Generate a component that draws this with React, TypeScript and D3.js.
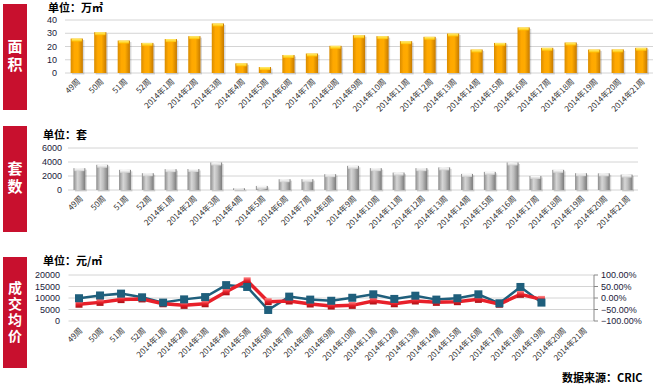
import React from "react";
import * as d3 from "d3";

// categories (weeks)
const weeks = [
  "49周", "50周", "51周", "52周",
  "2014年1周", "2014年2周", "2014年3周", "2014年4周", "2014年5周", "2014年6周",
  "2014年7周", "2014年8周", "2014年9周", "2014年10周", "2014年11周", "2014年12周",
  "2014年13周", "2014年14周", "2014年15周", "2014年16周", "2014年17周", "2014年18周",
  "2014年19周", "2014年20周", "2014年21周",
];

// 面积 (万㎡)
const areaValues = [26, 30.8, 24.5, 22.7, 25.6, 27.8, 37.4, 7.3, 4.5, 13.6, 14.7, 20.5, 28.5, 27.8, 24, 27.3, 29.8, 17.7, 22.7, 34.4, 19, 23, 17.7, 17.8, 19];
const areaTicks = [0, 10, 20, 30, 40];

// 套数 (套)
const unitValues = [3120, 3600, 2880, 2400, 2980, 3000, 3930, 250, 580, 1540, 1550, 2260, 3450, 3120, 2490, 3120, 3230, 2300, 2590, 3930, 2010, 2880, 2400, 2380, 2200];
const unitTicks = [0, 2000, 4000, 6000];

// 成交均价 (元/㎡) two series, data up to 2014年19周
const priceRed = [7300, 8100, 9300, 9600, 7500, 6800, 7500, 12700, 17500, 8400, 8700, 7400, 6500, 6800, 8700, 7500, 8700, 8100, 8400, 9400, 7300, 11600, 9400];
const priceBlue = [9900, 11100, 11900, 10300, 8000, 9400, 10400, 15600, 14800, 4800, 10600, 9300, 8800, 10100, 11600, 9600, 11000, 9300, 9900, 11600, 7700, 14800, 8000];
const priceTicks = [0, 5000, 10000, 15000, 20000];
const pctTicks = [-1, -0.5, 0, 0.5, 1];

const CJK = "'Microsoft YaHei','Noto Sans CJK SC',sans-serif";
const NUM = "'Liberation Sans',Arial,sans-serif";
const RED = "#c8102e";

type SideProps = { y: number; h: number; label: string; gap: number; size: number };

// red box with a vertically written title
const SideLabel = ({ y, h, label, gap, size }: SideProps) => (
  <g>
    <rect x={3} y={y} width={24} height={h} fill={RED} />
    <text
      x={15}
      y={y + h / 2}
      textAnchor="middle"
      fill="#fff"
      fontSize={size}
      fontWeight="bold"
      fontFamily={CJK}
      style={{ writingMode: "vertical-rl", letterSpacing: gap }}
    >
      {label}
    </text>
  </g>
);

type BarProps = {
  values: number[];
  ticks: number[];
  x0: number;
  x1: number;
  yTop: number;
  yBottom: number;
  tickRight: number;
  unit: string;
  unitX: number;
  unitY: number;
  grad: string;
  cap: string;
};

const BarPanel = (p: BarProps) => {
  const x = d3.scaleBand<string>().domain(weeks).range([p.x0, p.x1]).paddingInner(0.48).paddingOuter(0.24);
  const y = d3
    .scaleLinear()
    .domain([0, p.ticks[p.ticks.length - 1]])
    .range([p.yBottom, p.yTop]);
  const bw = x.bandwidth();
  return (
    <g>
      <text x={p.unitX} y={p.unitY} fontSize={11} fontWeight="bold" fontFamily={CJK} fill="#000">
        {p.unit}
      </text>
      {p.ticks.map((t) => (
        <g key={t}>
          <line x1={p.x0} x2={p.x1} y1={y(t)} y2={y(t)} stroke="#d4d4d4" strokeWidth={1} />
          <text x={p.tickRight} y={y(t)} dy="0.35em" textAnchor="end" fontSize={9} fontFamily={NUM} fill="#1a1a3a">
            {t}
          </text>
        </g>
      ))}
      {weeks.map((w, i) => {
        const bx = x(w) as number;
        const by = y(p.values[i]);
        const bh = p.yBottom - by;
        return (
          <g key={w}>
            <rect x={bx + 1.5} y={by + 1.5} width={bw} height={bh} fill="#000" opacity={0.15} />
            <rect x={bx} y={by} width={bw} height={bh} fill={`url(#${p.grad})`} />
            <rect x={bx + 1} y={by} width={bw - 2} height={Math.min(3, bh)} fill={`url(#${p.cap})`} />
          </g>
        );
      })}
      {weeks.map((w) => {
        const cx = (x(w) as number) + bw / 2;
        return (
          <text
            key={w}
            transform={`translate(${cx + 4},${p.yBottom + 9}) rotate(-45)`}
            textAnchor="end"
            fontSize={8}
            fontFamily={CJK}
            fill="#333"
          >
            {w}
          </text>
        );
      })}
    </g>
  );
};

const LinePanel = () => {
  const x0 = 68.5;
  const x1 = 594;
  const yTop = 275;
  const yBottom = 321;
  const x = d3.scalePoint<string>().domain(weeks).range([x0, x1]).padding(0.5);
  const y = d3.scaleLinear().domain([0, 20000]).range([yBottom, yTop]);
  const yPct = d3.scaleLinear().domain([-1, 1]).range([yBottom, yTop]);
  const line = d3
    .line<number>()
    .x((_, i) => x(weeks[i]) as number)
    .y((d) => y(d));
  const fmtPct = d3.format(".2%");
  return (
    <g>
      <text x={43} y={265} fontSize={11} fontWeight="bold" fontFamily={CJK} fill="#000">
        单位：元/㎡
      </text>
      {priceTicks.map((t) => (
        <g key={t}>
          <line x1={x0} x2={x1} y1={y(t)} y2={y(t)} stroke="#d4d4d4" />
          <text x={60} y={y(t)} dy="0.35em" textAnchor="end" fontSize={9} fontFamily={NUM} fill="#1a1a3a">
            {t}
          </text>
        </g>
      ))}
      <line x1={x1} x2={x1} y1={yTop} y2={yBottom} stroke="#888" />
      {pctTicks.map((t) => (
        <g key={t}>
          <line x1={x1} x2={x1 + 4} y1={yPct(t)} y2={yPct(t)} stroke="#888" />
          <text x={x1 + 7} y={yPct(t)} dy="0.35em" fontSize={9} fontFamily={NUM} fill="#1a1a3a">
            {fmtPct(t)}
          </text>
        </g>
      ))}
      <path d={line(priceBlue) || ""} fill="none" stroke="#1f5f7c" strokeWidth={2.5} />
      <path d={line(priceRed) || ""} fill="none" stroke="#e8202a" strokeWidth={3.5} />
      {priceRed.map((v, i) => (
        <rect
          key={"r" + i}
          x={(x(weeks[i]) as number) - 3.5}
          y={y(v) - 3.5}
          width={7}
          height={7}
          fill="url(#redMark)"
        />
      ))}
      {priceBlue.map((v, i) => (
        <rect
          key={"b" + i}
          x={(x(weeks[i]) as number) - 4}
          y={y(v) - 4}
          width={8}
          height={8}
          fill="#1f5f7c"
        />
      ))}
      {weeks.map((w) => (
        <text
          key={w}
          transform={`translate(${(x(w) as number) + 4},${yBottom + 10}) rotate(-45)`}
          textAnchor="end"
          fontSize={8}
          fontFamily={CJK}
          fill="#333"
        >
          {w}
        </text>
      ))}
    </g>
  );
};

export default function App() {
  return (
    <svg
      width={653}
      height={385}
      style={{ position: "absolute", left: 0, top: 0, display: "block", background: "#fff" }}
    >
      <defs>
        <linearGradient id="orangeBar" x1="0" x2="1" y1="0" y2="0">
          <stop offset="0" stopColor="#d98c00" />
          <stop offset="0.3" stopColor="#ffa800" />
          <stop offset="0.6" stopColor="#ffab00" />
          <stop offset="1" stopColor="#c67a00" />
        </linearGradient>
        <linearGradient id="orangeCap" x1="0" x2="0" y1="0" y2="1">
          <stop offset="0" stopColor="#fff07a" />
          <stop offset="1" stopColor="#ffc200" />
        </linearGradient>
        <linearGradient id="grayBar" x1="0" x2="1" y1="0" y2="0">
          <stop offset="0" stopColor="#8c8c8c" />
          <stop offset="0.35" stopColor="#d6d6d6" />
          <stop offset="0.6" stopColor="#bdbdbd" />
          <stop offset="1" stopColor="#7a7a7a" />
        </linearGradient>
        <linearGradient id="grayCap" x1="0" x2="0" y1="0" y2="1">
          <stop offset="0" stopColor="#ffffff" />
          <stop offset="1" stopColor="#d0d0d0" />
        </linearGradient>
        <linearGradient id="redMark" x1="0" x2="0" y1="0" y2="1">
          <stop offset="0" stopColor="#ff8a8a" />
          <stop offset="0.5" stopColor="#e8202a" />
          <stop offset="1" stopColor="#a80e14" />
        </linearGradient>
      </defs>

      <SideLabel y={4} h={106} label="面积" gap={3} size={15} />
      <SideLabel y={126} h={106} label="套数" gap={3} size={15} />
      <SideLabel y={257} h={111} label="成交均价" gap={2} size={14} />

      <BarPanel
        values={areaValues}
        ticks={areaTicks}
        x0={65}
        x1={653}
        yTop={20}
        yBottom={73}
        tickRight={57}
        unit="单位：万㎡"
        unitX={48}
        unitY={12}
        grad="orangeBar"
        cap="orangeCap"
      />
      <BarPanel
        values={unitValues}
        ticks={unitTicks}
        x0={68}
        x1={638}
        yTop={148}
        yBottom={190}
        tickRight={62}
        unit="单位：套"
        unitX={43}
        unitY={139}
        grad="grayBar"
        cap="grayCap"
      />
      <LinePanel />

      <text x={562} y={382} fontSize={11} fontWeight="bold" fontFamily={CJK} fill="#000">
        数据来源：CRIC
      </text>
    </svg>
  );
}
